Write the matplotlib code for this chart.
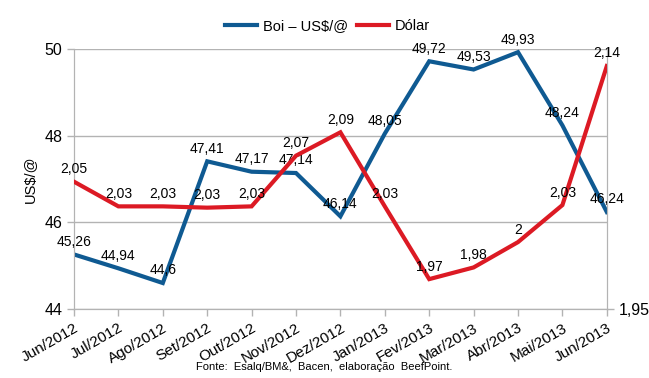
import numpy as np
import matplotlib
matplotlib.use("Agg")
import matplotlib.pyplot as plt

plt.rcParams['font.family'] = ['Liberation Sans', 'DejaVu Sans']

months = ['Jun/2012', 'Jul/2012', 'Ago/2012', 'Set/2012', 'Out/2012', 'Nov/2012', 'Dez/2012',
          'Jan/2013', 'Fev/2013', 'Mar/2013', 'Abr/2013', 'Mai/2013', 'Jun/2013']
boi = [45.26, 44.94, 44.6, 47.41, 47.17, 47.14, 46.14, 48.05, 49.72, 49.53, 49.93, 48.24, 46.24]
# dollar values (labels are the rounded values)
dolar = [2.048, 2.029, 2.029, 2.028, 2.029, 2.068, 2.086, 2.029, 1.973, 1.982, 2.0015, 2.03, 2.137]

BLUE = '#0f5a92'
RED = '#dc1a24'
GRID = '#b3b3b3'

def fmt(v):
    s = ('%.2f' % v).rstrip('0').rstrip('.')
    return s.replace('.', ',')

fig = plt.figure(figsize=(6.49, 3.78), dpi=100)
ax = fig.add_axes([0.114, 0.1825, 0.821, 0.6875])
ax2 = ax.twinx()

x = np.arange(len(months))
ax.plot(x, boi, color=BLUE, lw=3, solid_joinstyle='miter', label='Boi \u2013 US$/@', zorder=3)
ax2.plot(x, dolar, color=RED, lw=3, solid_joinstyle='miter', label='D\u00f3lar', zorder=3)

for xi, v in zip(x, boi):
    ax.annotate(fmt(v), (xi, v), xytext=(0, 4), textcoords='offset points',
                ha='center', va='bottom', fontsize=10, zorder=5)
for xi, v in zip(x, dolar):
    ax2.annotate(fmt(v), (xi, v), xytext=(0, 4), textcoords='offset points',
                 ha='center', va='bottom', fontsize=10, zorder=5)

ax.set_xlim(0, len(months) - 1)
ax.set_ylim(44, 50)
ax.set_yticks([44, 46, 48, 50])
ax.set_yticklabels(['44', '46', '48', '50'], fontsize=11.5)
ax2.set_ylim(1.95, 2.15)
ax2.set_yticks([1.95])
ax2.set_yticklabels(['1,95'], fontsize=11.5)

ax.set_xticks(x)
ax.set_xticklabels(months, rotation=30, ha='right', rotation_mode='anchor', fontsize=11)
ax.grid(axis='y', color=GRID, lw=1)
ax.set_axisbelow(True)
ax.tick_params(axis='both', color=GRID, length=5, width=1)
ax2.tick_params(axis='y', color=GRID, length=5, width=1)
for a in (ax, ax2):
    for sp in a.spines.values():
        sp.set_color(GRID)
    a.spines['top'].set_visible(False)

ax.set_ylabel('US$/@', fontsize=10.5, labelpad=5)

h1, l1 = ax.get_legend_handles_labels()
h2, l2 = ax2.get_legend_handles_labels()
fig.legend(h1 + h2, l1 + l2, loc='center', bbox_to_anchor=(0.505, 0.93), ncol=2,
           frameon=False, fontsize=10.5, handlelength=2.2, columnspacing=0.6, handletextpad=0.4)

fig.text(0.5, 0.03, 'Fonte:  Esalq/BM&,  Bacen,  elabora\u00e7\u00e3o  BeefPoint.', ha='center',
         va='center', fontsize=8)

plt.savefig('out.png', dpi=100)
